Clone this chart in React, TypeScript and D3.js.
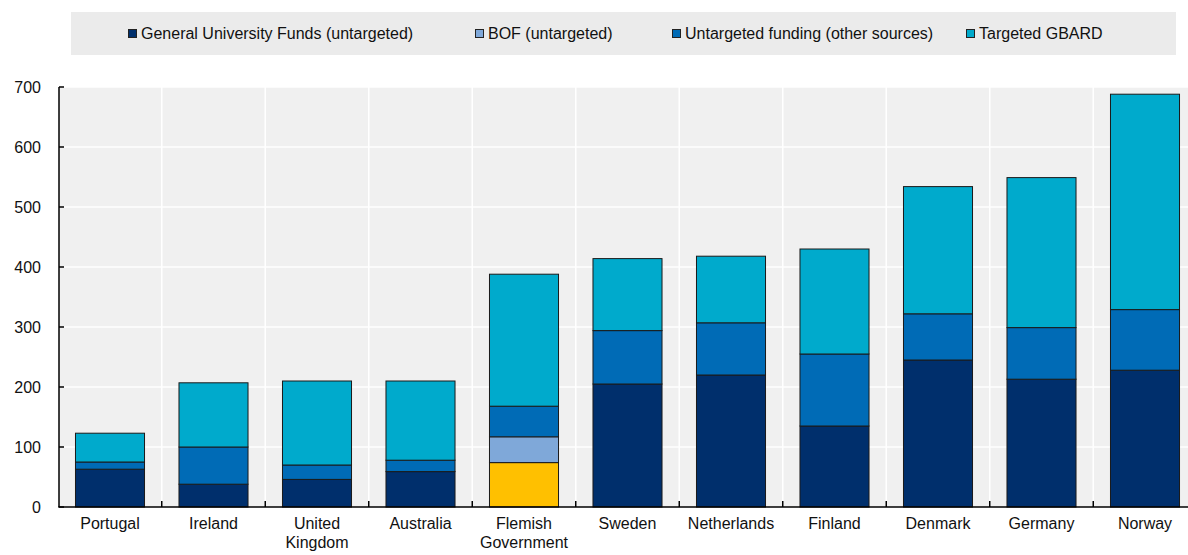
import React from "react";
import * as d3 from "d3";

const categories = ["Portugal", "Ireland", "United Kingdom", "Australia", "Flemish Government", "Sweden", "Netherlands", "Finland", "Denmark", "Germany", "Norway"];
const categoryLines = [["Portugal"], ["Ireland"], ["United", "Kingdom"], ["Australia"], ["Flemish", "Government"], ["Sweden"], ["Netherlands"], ["Finland"], ["Denmark"], ["Germany"], ["Norway"]];
const generalUniversityFunds = [63, 38, 46, 59, 74, 205, 220, 135, 245, 213, 228];
const bofUntargeted = [0, 0, 0, 0, 43, 0, 0, 0, 0, 0, 0];
const untargetedOther = [12, 62, 24, 19, 51, 89, 87, 120, 77, 86, 101];
const targetedGBARD = [48, 107, 140, 132, 220, 120, 111, 175, 212, 250, 359];
const highlightCategory = "Flemish Government";
const seriesNames = ["General University Funds (untargeted)", "BOF (untargeted)", "Untargeted funding (other sources)", "Targeted GBARD"];
const yTicks = [0, 100, 200, 300, 400, 500, 600, 700];

const colors = ["#002f6c", "#7fa8d9", "#006bb6", "#00aacc"];
const highlightColor = "#ffc000";

export default function App() {
  const W = 1188, H = 555;
  const x0 = 58.25, x1 = 1196.75, yTop = 87, yBot = 507;
  const x = d3.scaleBand<string>().domain(categories).range([x0, x1]).paddingInner(0.333).paddingOuter(0.1665);
  const y = d3.scaleLinear().domain([0, 700]).range([yBot, yTop]);
  const step = x.step();
  const seriesData = [generalUniversityFunds, bofUntargeted, untargetedOther, targetedGBARD];
  const table = categories.map((c, i) => {
    const o: any = { cat: c };
    seriesNames.forEach((s, k) => (o[s] = seriesData[k][i]));
    return o;
  });
  const stacked = d3.stack<any>().keys(seriesNames)(table);
  const font = "'Liberation Sans', Arial, sans-serif";
  const legendX = [128, 475, 672, 966];
  return (
    <svg width={W} height={H} style={{ position: "absolute", left: 0, top: 0 }} fontFamily={font}>
      <rect x={71} y={12} width={1105} height={43} fill="#ebebeb" />
      {seriesNames.map((s, k) => (
        <g key={s}>
          <rect x={legendX[k] + 0.5} y={29.5} width={8} height={8} fill={colors[k]} stroke="#222" strokeWidth={1} />
          <text x={legendX[k] + 13} y={39} fontSize={16} fill="#111">{s}</text>
        </g>
      ))}
      <rect x={59} y={yTop} width={W - 59} height={yBot - yTop} fill="#f0f0f0" />
      {yTicks.filter((t) => t > 0).map((t) => (
        <line key={t} x1={59} x2={W} y1={y(t)} y2={y(t)} stroke="#fff" strokeWidth={1.5} />
      ))}
      {categories.slice(1).map((c) => {
        const bx = (x(c) as number) - (step - x.bandwidth()) / 2;
        return <line key={c} x1={bx} x2={bx} y1={yTop} y2={yBot} stroke="#fff" strokeWidth={1.5} />;
      })}
      {stacked.map((layer, k) =>
        layer.map((d, i) => {
          if (d[1] - d[0] <= 0) return null;
          const cat = categories[i];
          const fill = k === 0 && cat === highlightCategory ? highlightColor : colors[k];
          return (
            <rect key={k + "-" + i} x={x(cat)} y={y(d[1])} width={x.bandwidth()} height={y(d[0]) - y(d[1])} fill={fill} stroke="#1a1a1a" strokeWidth={1} />
          );
        })
      )}
      {categories.slice(1).map((c) => {
        const bx = (x(c) as number) - (step - x.bandwidth()) / 2;
        return <line key={"t" + c} x1={bx} x2={bx} y1={yBot - 6} y2={yBot} stroke="#000" strokeWidth={1.5} />;
      })}
      {yTicks.map((t) => (
        <g key={"y" + t}>
          <line x1={59} x2={64} y1={y(t)} y2={y(t)} stroke="#000" strokeWidth={1.5} />
          <text x={41} y={y(t) + 5.5} textAnchor="end" fontSize={16} fill="#111">{t}</text>
        </g>
      ))}
      <line x1={59} x2={59} y1={yTop} y2={yBot} stroke="#000" strokeWidth={1.5} />
      <line x1={58.25} x2={W} y1={yBot} y2={yBot} stroke="#000" strokeWidth={1.5} />
      {categories.map((c, i) => (
        <text key={"l" + c} x={(x(c) as number) + x.bandwidth() / 2} textAnchor="middle" fontSize={16} fill="#111">
          {categoryLines[i].map((ln, j) => (
            <tspan key={j} x={(x(c) as number) + x.bandwidth() / 2} y={529 + j * 19}>{ln}</tspan>
          ))}
        </text>
      ))}
    </svg>
  );
}
